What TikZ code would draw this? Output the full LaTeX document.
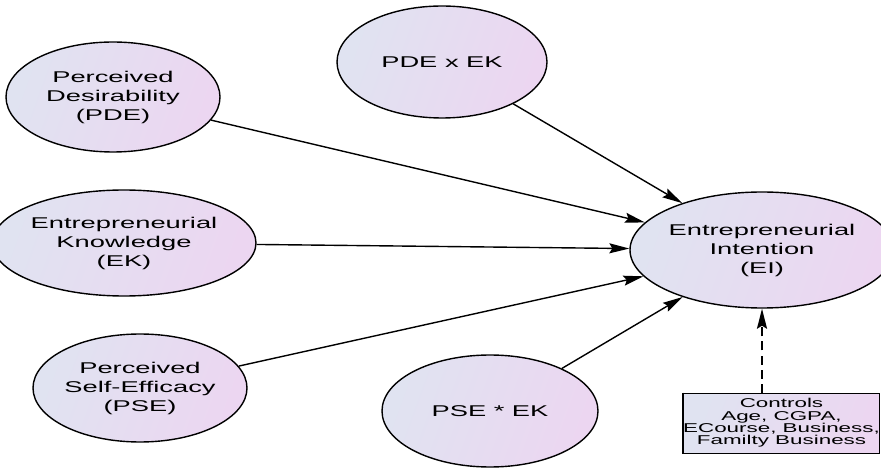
\documentclass[tikz,border=0pt]{standalone}
\usepackage{fontspec}
\setmainfont{Liberation Sans}[FakeStretch=1.75]
\usetikzlibrary{shapes.geometric,arrows.meta}
\definecolor{cleft}{RGB}{224,227,241}
\definecolor{cright}{RGB}{236,214,241}
\tikzset{
  latent/.style={ellipse, draw=black, line width=1.4pt, left color=cleft, right color=cright, shading angle=70,
    inner sep=0pt, align=center, font=\fontsize{15.6}{19}\selectfont},
  path/.style={draw=black, line width=1.4pt, -{Stealth[length=20pt,width=10pt,inset=3pt]}},
  ctrlbox/.style={draw=black, line width=1pt, left color=cleft, right color=cright, shading angle=70,
    inner sep=0pt, minimum width=196pt, minimum height=60pt, align=center,
    font=\fontsize{12.8}{12.4}\selectfont},
}
\begin{document}
\begin{tikzpicture}[x=1pt,y=-1pt]
\useasboundingbox (0,0) rectangle (881,470);
\node[latent, minimum width=214pt, minimum height=110pt] (pde) at (113,97) {Perceived\\Desirability\\(PDE)};
\node[latent, minimum width=210pt, minimum height=112pt] (pdeek) at (442,62) {PDE x EK};
\node[latent, minimum width=220pt, minimum height=106pt] (ek) at (124,243) {Entrepreneurial\\Knowledge\\(EK)};
\node[latent, minimum width=214pt, minimum height=108pt] (pse) at (140,388) {Perceived\\Self-Efficacy\\(PSE)};
\node[latent, minimum width=216pt, minimum height=112pt] (pseek) at (490,411) {PSE * EK};
\node[latent, minimum width=216pt, minimum height=116pt] (ei) at (762,250) {Entrepreneurial\\Intention\\(EI)};
\node[ctrlbox] (ctrl) at (781.5,423) {Controls\\Age, CGPA,\\ECourse, Business,\\Familty Business};
\draw[line width=2.2pt, draw=black] (ctrl.north west) -- (ctrl.south west);
\draw[path] (pde) -- (ei);
\draw[path] (pdeek) -- (ei);
\draw[path] (ek) -- (ei);
\draw[path] (pse) -- (ei);
\draw[path] (pseek) -- (ei);
\draw[path, dash pattern=on 9pt off 5pt, line width=1.8pt] (ei |- ctrl.north) -- (ei.south);
\end{tikzpicture}
\end{document}
